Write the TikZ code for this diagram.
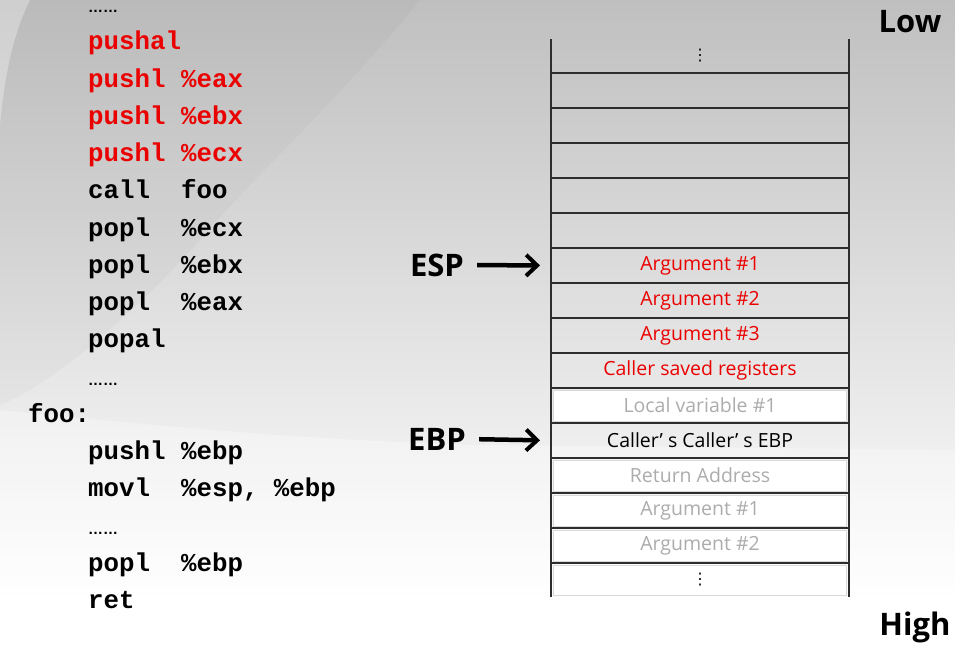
\documentclass[tikz,border=0pt]{standalone}
\usepackage{fontspec}
\setmainfont{Open Sans}
\setmonofont{Liberation Mono}
\newfontfamily\dotsfont{Liberation Sans}
\newfontfamily\symfont{DejaVu Sans}
\usetikzlibrary{arrows.meta,calc,positioning}
\definecolor{codered}{RGB}{235,0,0}
\definecolor{fadetext}{RGB}{172,172,172}
\definecolor{stackline}{RGB}{45,45,45}
\newcommand{\codedots}{{\dotsfont\fontsize{15}{15}\selectfont ……}}
\newcommand{\stackdots}{{\symfont\fontsize{16}{16}\selectfont ⋮}}

\begin{document}
\begin{tikzpicture}[x=1pt, y=-1pt,
  cell/.style={draw=stackline, line width=1.4pt, minimum width=298pt, minimum height=35pt,
    inner sep=0pt, outer sep=0pt, font=\fontsize{19.5}{19.5}\selectfont},
  faded/.style={cell, text=fadetext, path picture={
    \draw[gray!30, line width=1pt, fill=white]
      ([shift={(2.5pt,-2pt)}]path picture bounding box.north west) rectangle
      ([shift={(-2.5pt,2pt)}]path picture bounding box.south east);}},
  code/.style={anchor=base west, inner sep=0pt, font=\fontsize{25.8}{30}\ttfamily\bfseries},
  reg/.style={inner sep=1pt, font=\fontsize{31}{31}\selectfont\bfseries},
  ptr/.style={line width=4.5pt, -{Straight Barb[length=11pt, width=21pt, line width=4pt]},
    shorten <=12pt, shorten >=11pt}]
\useasboundingbox (0,0) rectangle (955,651);

% Background (grey fading to white, with a swoosh)
\fill[white] (0,0) rectangle (955,651);
\shade[top color=gray!50, bottom color=white] (0,0) rectangle (955,600);
\fill[black, opacity=0.025] (30,0) -- (420,0) .. controls (330,110) and (250,180) .. (200,240)
  .. controls (120,330) and (40,390) .. (0,405) -- (0,125) .. controls (5,70) and (15,30) .. (30,0) -- cycle;
\fill[white, opacity=0.25] (0,0) -- (30,0) .. controls (15,30) and (5,70) .. (0,125) -- cycle;
\fill[white, opacity=0.3] (0,410) .. controls (150,425) and (300,440) .. (480,445) -- (955,450)
  -- (955,651) -- (0,651) -- cycle;

% Assembly listing
\foreach \k/\x/\txt/\col in {0/88/\codedots/black, 1/88/pushal/codered, 2/88/pushl~\%eax/codered,
    3/88/pushl~\%ebx/codered, 4/88/pushl~\%ecx/codered, 5/88/call~~foo/black,
    6/88/popl~~\%ecx/black, 7/88/popl~~\%ebx/black, 8/88/popl~~\%eax/black, 9/88/popal/black,
    10/88/\codedots/black, 11/28/foo:/black, 12/88/pushl~\%ebp/black,
    13/88/{movl~~\%esp,~\%ebp}/black, 14/88/\codedots/black, 15/88/popl~~\%ebp/black, 16/88/ret/black}
  \node[code, text=\col] (l\k) at (\x, {12.5+37.25*\k}) {\txt};

% Stack
\node[cell, draw=none, minimum height=34pt] (top) at (700,56) {\stackdots};
\node[cell, below=0pt of top] (s1) {};
\node[cell, below=0pt of s1] (s2) {};
\node[cell, below=0pt of s2] (s3) {};
\node[cell, below=0pt of s3] (s4) {};
\node[cell, below=0pt of s4] (s5) {};
\node[cell, text=codered, below=0pt of s5] (s6) {Argument \#1};
\node[cell, text=codered, below=0pt of s6] (s7) {Argument \#2};
\node[cell, text=codered, below=0pt of s7] (s8) {Argument \#3};
\node[cell, text=codered, below=0pt of s8] (s9) {Caller saved registers};
\node[faded, below=0pt of s9] (s10) {Local variable \#1};
\node[cell, below=0pt of s10] (s11) {Caller’ s Caller’ s EBP};
\node[faded, below=0pt of s11] (s12) {Return Address};
\node[faded, below=0pt of s12] (s13) {Argument \#1};
\node[faded, below=0pt of s13] (s14) {Argument \#2};
\node[faded, text=black, draw=none, minimum height=34pt, below=0pt of s14] (bot) {\stackdots};
\draw[stackline, line width=1.4pt] (top.north west) -- (bot.south west);
\draw[stackline, line width=1.4pt] (top.north east) -- (bot.south east);

% Pointers
\node[reg] (esp) at (437,265) {ESP};
\node[reg] (ebp) at (437,439) {EBP};
\draw[ptr] (esp.east) -- (s6.west);
\draw[ptr] (ebp.east) -- (s11.west);

\node[reg] (low) at (910,22) {Low};
\node[reg] (high) at (915,627) {High};
\end{tikzpicture}
\end{document}
